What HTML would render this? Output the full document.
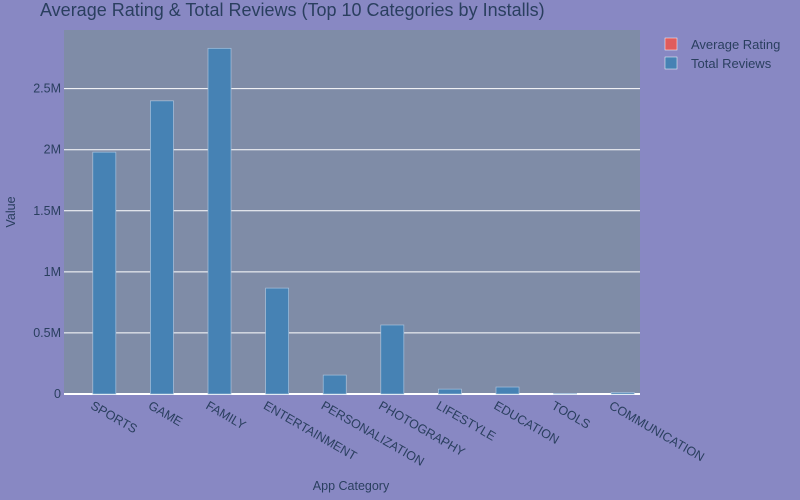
<!DOCTYPE html>
<html><head><meta charset="utf-8"><style>
html,body{margin:0;padding:0;overflow:hidden;background:#8888c3;font-family:"Liberation Sans",sans-serif;}
svg{display:block;}
svg text{font-family:"Liberation Sans",sans-serif;fill:#2a3f5f;}
</style></head><body>
<svg id="c" width="800" height="500">
<rect width="800" height="500" fill="#8888c3"/>
<rect x="64" y="30" width="576" height="364" fill="#7f8ca7"/>
<text x="40" y="16" font-size="18">Average Rating &amp; Total Reviews (Top 10 Categories by Installs)</text>
<text x="351" y="490" font-size="12.5" text-anchor="middle">App Category</text>
<text x="15" y="212" font-size="12.5" text-anchor="middle" transform="rotate(-90 15 212)">Value</text>
<g id="grid"></g><g id="bars"></g><g id="xt"></g>
<g>
<rect x="665" y="38" width="12" height="12" fill="#e05c5c" stroke="#fff" stroke-width="0.5"/>
<text x="691" y="49" font-size="13">Average Rating</text>
<rect x="665" y="57" width="12" height="12" fill="#4682b4" stroke="#fff" stroke-width="0.5"/>
<text x="691" y="68" font-size="13">Total Reviews</text>
</g>
</svg>
<script>
const categories=["SPORTS","GAME","FAMILY","ENTERTAINMENT","PERSONALIZATION","PHOTOGRAPHY","LIFESTYLE","EDUCATION","TOOLS","COMMUNICATION"];
const avgRating=[4.2,4.3,4.2,4.1,4.3,4.2,4.1,4.4,4.0,4.2];
const totalReviews=[1980000,2400000,2830000,867000,155000,565000,40000,57000,5000,12000];
const yTicks=[0,500000,1000000,1500000,2000000,2500000];
const yTickLabels=["0","0.5M","1M","1.5M","2M","2.5M"];
const NS="http://www.w3.org/2000/svg";
const x0=64,pw=576,y0=394,ph=364,ymax=2980000;
const y=v=>y0-v/ymax*ph;
const band=pw/categories.length;
function mk(t,a,p){const e=document.createElementNS(NS,t);for(const k in a)e.setAttribute(k,a[k]);p.appendChild(e);return e;}
const g=document.getElementById('grid');
yTicks.forEach((v,i)=>{
 if(i>0){const l=mk('line',{x1:x0,x2:x0+pw,y1:y(v),y2:y(v),stroke:'#fff','stroke-width':1},g);
 
 }
 const t=mk('text',{x:x0-3,y:y(v)+4,'font-size':12.5,'text-anchor':'end'},g);t.textContent=yTickLabels[i];
 
 
});
const zl=mk('line',{x1:x0,x2:x0+pw,y1:y0,y2:y0,stroke:'#fff','stroke-width':2},g);


const b=document.getElementById('bars'),xt=document.getElementById('xt');
const bw=band*0.4;
categories.forEach((c,i)=>{
 const cx=x0+band*(i+0.5);
 const r1=mk('rect',{x:cx-bw,y:y(avgRating[i]),width:bw,height:y0-y(avgRating[i]),fill:'#e05c5c'},b);
 
 
 const r=mk('rect',{x:cx,y:y(totalReviews[i]),width:bw,height:y0-y(totalReviews[i]),fill:'#4682b4',stroke:'#a9c2dd','stroke-width':0.7},b);
 
 
 const t=mk('text',{x:cx-3,y:408,'font-size':12.5,transform:`rotate(30 ${cx-3} 408)`},xt);t.textContent=c;
 
 
});
</script>
</body></html>
